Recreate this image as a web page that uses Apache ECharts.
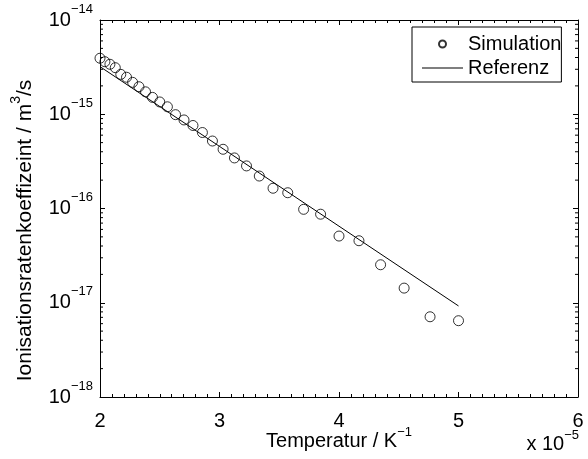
<!DOCTYPE html>
<html>
<head>
<meta charset="utf-8">
<script src="https://cdn.jsdelivr.net/npm/echarts@6/dist/echarts.min.js"></script>
<style>
  html, body { margin: 0; padding: 0; background: #fff; }
  #chart { width: 588px; height: 459px; }
</style>
</head>
<body>
<div id="chart"></div>
<script>
// 1/T in units of 1e-5 K^-1
var tempX = [2.000, 2.041, 2.083, 2.128, 2.174, 2.222, 2.273, 2.326, 2.381, 2.439,
             2.500, 2.564, 2.632, 2.703, 2.778, 2.857, 2.941, 3.030, 3.125, 3.226,
             3.333, 3.448, 3.571, 3.704, 3.846, 4.000, 4.167, 4.348, 4.545, 4.762, 5.000];
var simY = [3.93e-15, 3.61e-15, 3.39e-15, 3.12e-15, 2.65e-15, 2.47e-15, 2.18e-15, 1.96e-15,
            1.73e-15, 1.51e-15, 1.35e-15, 1.20e-15, 9.9e-16, 8.7e-16, 7.6e-16, 6.4e-16,
            5.2e-16, 4.25e-16, 3.44e-16, 2.83e-16, 2.21e-16, 1.64e-16, 1.47e-16, 9.8e-17,
            8.7e-17, 5.1e-17, 4.55e-17, 2.53e-17, 1.43e-17, 7.1e-18, 6.45e-18];
var refX = [2, 3, 4, 5];
var refY = [3.2e-15, 4.56e-16, 6.49e-17, 9.25e-18];
var decades = [-18, -17, -16, -15];
var minorSteps = [2, 3, 4, 5, 6, 7, 8, 9];

var simData = tempX.map(function (x, i) { return [x, simY[i]]; });
var refData = refX.map(function (x, i) { return [x, refY[i]]; });
var minorData = [];
decades.forEach(function (d) {
  minorSteps.forEach(function (m) { minorData.push([2, m * Math.pow(10, d)]); });
});

var font = 'Liberation Sans';
var rich = {
  b: { fontSize: 20, fontFamily: font, color: '#000' },
  s: { fontSize: 13, fontFamily: font, color: '#000', padding: [0, 0, 22, 0] }
};
var nameRich = {
  b: { fontSize: 20, fontFamily: font, color: '#000' },
  s: { fontSize: 13, fontFamily: font, color: '#000', padding: [0, 0, 18, 0] }
};
var yNameRich = {
  b: { fontSize: 21, fontFamily: font, color: '#000' },
  s: { fontSize: 14, fontFamily: font, color: '#000', padding: [0, 0, 18, 0] }
};

var myChart = echarts.init(document.getElementById('chart'));
var option = {
  animation: false,
  backgroundColor: '#fff',
  grid: { left: 100, right: 10, top: 20, bottom: 62, outerBoundsMode: 'none' },
  legend: {
    left: 412, top: 27,
    orient: 'vertical',
    backgroundColor: '#fff',
    borderColor: '#000', borderWidth: 1, borderRadius: 0,
    padding: [7, 0, 4, 10],
    itemWidth: 41, itemHeight: 7, itemGap: 4,
    textStyle: { fontSize: 20, fontFamily: font, color: '#000' },
    data: [
      { name: 'Simulation' },
      { name: 'Referenz', icon: 'path://M0,0L41,0L41,1L0,1Z' }
    ]
  },
  xAxis: [{
    type: 'value', min: 2, max: 6, interval: 1,
    name: '{b|Temperatur / K}{s|−1}',
    nameLocation: 'middle', nameGap: 29, nameMoveOverlap: false,
    nameTextStyle: { rich: nameRich },
    axisLine: { lineStyle: { color: '#000', width: 1 } },
    axisTick: { inside: true, length: 5, lineStyle: { color: '#000' } },
    minorTick: { show: true, splitNumber: 10, length: 3, lineStyle: { color: '#000' } },
    axisLabel: { margin: 14, fontSize: 20, fontFamily: font, color: '#000' },
    splitLine: { show: false }
  }, {
    type: 'value', min: 2, max: 6, interval: 1, position: 'top',
    axisLine: { lineStyle: { color: '#000', width: 1 } },
    axisTick: { inside: true, length: 5, lineStyle: { color: '#000' } },
    minorTick: { show: true, splitNumber: 10, length: 3, lineStyle: { color: '#000' } },
    axisLabel: { show: false },
    splitLine: { show: false }
  }],
  yAxis: [{
    type: 'log', logBase: 10, min: 1e-18, max: 1e-14,
    name: '{b|Ionisationsratenkoeffizeint / m}{s|3}{b|/s}',
    nameLocation: 'middle', nameGap: 59,
    nameTextStyle: { rich: yNameRich, padding: [0, 44, 0, 0] },
    axisLine: { lineStyle: { color: '#000', width: 1 } },
    axisTick: { inside: true, length: 5, lineStyle: { color: '#000' } },
    axisLabel: {
      margin: 7,
      formatter: function (v) {
        var e = Math.round(Math.log10(v));
        return '{b|10}{s|−' + Math.abs(e) + '}';
      },
      rich: rich
    },
    splitLine: { show: false }
  }, {
    type: 'log', logBase: 10, min: 1e-18, max: 1e-14, position: 'right',
    axisLine: { lineStyle: { color: '#000', width: 1 } },
    axisTick: { inside: true, length: 5, lineStyle: { color: '#000' } },
    axisLabel: { show: false },
    splitLine: { show: false }
  }],
  graphic: [{
    type: 'text',
    style: {
      x: 579, y: 444, align: 'right', verticalAlign: 'middle',
      text: '{b|x 10}{s|−5}',
      rich: nameRich
    }
  }],
  series: [{
    name: 'Simulation',
    type: 'scatter',
    data: simData,
    symbol: 'circle',
    symbolSize: 10,
    itemStyle: { color: 'rgba(0,0,0,0)', borderColor: '#000', borderWidth: 1 }
  }, {
    name: 'Referenz',
    type: 'line',
    data: refData,
    symbol: 'none',
    lineStyle: { color: '#000', width: 1 },
    itemStyle: { color: '#000' }
  }, {
    name: 'minor',
    type: 'custom',
    silent: true,
    data: minorData,
    renderItem: function (params, api) {
      var v = api.value(1);
      var l = api.coord([2, v]);
      var r = api.coord([6, v]);
      var st = { stroke: '#000', lineWidth: 1 };
      return {
        type: 'group',
        children: [
          { type: 'line', shape: { x1: l[0], y1: l[1], x2: l[0] + 3, y2: l[1] }, style: st },
          { type: 'line', shape: { x1: r[0] - 3, y1: r[1], x2: r[0], y2: r[1] }, style: st }
        ]
      };
    }
  }]
};
myChart.setOption(option);
</script>
</body>
</html>
